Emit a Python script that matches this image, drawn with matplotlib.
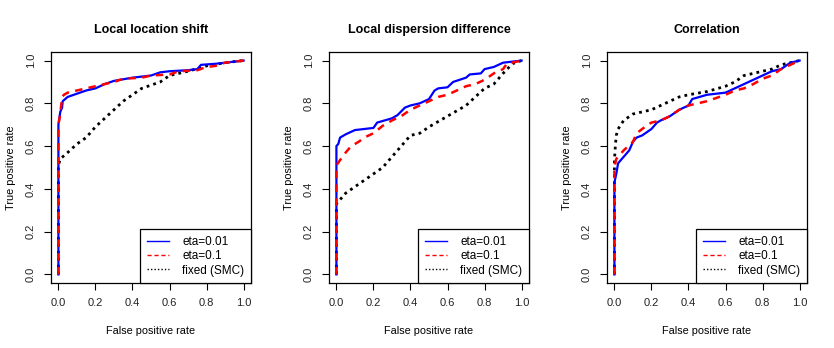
import numpy as np
import matplotlib.pyplot as plt
from matplotlib.lines import Line2D

plt.rcParams['font.family'] = ['Liberation Sans', 'DejaVu Sans']

titles = ["Local location shift", "Local dispersion difference", "Correlation"]
labels = ["eta=0.01", "eta=0.1", "fixed (SMC)"]

# panel 1: local location shift
p1_blue_x = [0, 0, 0.01, 0.02, 0.023, 0.05, 0.1, 0.15, 0.2, 0.25, 0.3, 0.4, 0.5, 0.55, 0.6, 0.7, 0.75, 0.77, 0.85, 0.9, 1.0]
p1_blue_y = [0, 0.70, 0.76, 0.78, 0.81, 0.83, 0.845, 0.86, 0.87, 0.89, 0.905, 0.92, 0.93, 0.945, 0.95, 0.955, 0.96, 0.98, 0.985, 0.99, 1.0]
p1_red_x = [0, 0, 0.01, 0.02, 0.03, 0.05, 0.1, 0.15, 0.2, 0.3, 0.35, 0.45, 0.5, 0.6, 0.65, 0.75, 0.8, 0.85, 0.9, 1.0]
p1_red_y = [0, 0.70, 0.75, 0.83, 0.84, 0.85, 0.86, 0.87, 0.88, 0.90, 0.915, 0.92, 0.93, 0.935, 0.95, 0.955, 0.97, 0.975, 0.99, 1.0]
p1_blk_x = [0, 0, 0.01, 0.05, 0.1, 0.15, 0.2, 0.25, 0.3, 0.35, 0.4, 0.45, 0.5, 0.55, 0.6, 0.7, 0.8, 0.9, 1.0]
p1_blk_y = [0, 0.51, 0.54, 0.57, 0.61, 0.64, 0.69, 0.73, 0.77, 0.81, 0.84, 0.87, 0.885, 0.90, 0.93, 0.95, 0.975, 0.99, 1.0]

# panel 2: local dispersion difference
p2_blue_x = [0, 0, 0.01, 0.02, 0.05, 0.1, 0.2, 0.22, 0.3, 0.33, 0.37, 0.4, 0.45, 0.5, 0.53, 0.55, 0.6, 0.63, 0.7, 0.72, 0.78, 0.8, 0.85, 0.9, 0.95, 1.0]
p2_blue_y = [0, 0.60, 0.61, 0.64, 0.655, 0.675, 0.685, 0.71, 0.73, 0.745, 0.78, 0.79, 0.80, 0.82, 0.86, 0.87, 0.875, 0.90, 0.92, 0.935, 0.94, 0.96, 0.97, 0.99, 0.995, 1.0]
p2_red_x = [0, 0, 0.02, 0.05, 0.08, 0.12, 0.15, 0.2, 0.25, 0.3, 0.35, 0.4, 0.45, 0.5, 0.55, 0.6, 0.65, 0.7, 0.75, 0.8, 0.85, 0.9, 0.92, 1.0]
p2_red_y = [0, 0.51, 0.535, 0.57, 0.60, 0.62, 0.64, 0.66, 0.695, 0.72, 0.74, 0.77, 0.79, 0.81, 0.83, 0.84, 0.86, 0.88, 0.89, 0.91, 0.94, 0.96, 0.985, 1.0]
p2_blk_x = [0, 0, 0.02, 0.05, 0.1, 0.15, 0.2, 0.25, 0.3, 0.35, 0.4, 0.45, 0.5, 0.6, 0.7, 0.75, 0.8, 0.85, 0.9, 0.95, 1.0]
p2_blk_y = [0, 0.33, 0.35, 0.38, 0.41, 0.44, 0.47, 0.50, 0.55, 0.60, 0.65, 0.66, 0.69, 0.74, 0.79, 0.83, 0.87, 0.89, 0.94, 0.985, 1.0]

# panel 3: correlation
p3_blue_x = [0, 0, 0.01, 0.02, 0.05, 0.08, 0.1, 0.12, 0.15, 0.2, 0.23, 0.25, 0.3, 0.35, 0.4, 0.42, 0.5, 0.6, 0.65, 0.7, 0.75, 0.8, 0.85, 0.9, 0.95, 1.0]
p3_blue_y = [0, 0.43, 0.47, 0.52, 0.55, 0.58, 0.62, 0.64, 0.65, 0.68, 0.71, 0.72, 0.74, 0.77, 0.79, 0.82, 0.84, 0.85, 0.87, 0.89, 0.91, 0.93, 0.95, 0.96, 0.99, 1.0]
p3_red_x = [0, 0, 0.01, 0.05, 0.1, 0.12, 0.18, 0.2, 0.25, 0.3, 0.35, 0.4, 0.45, 0.5, 0.6, 0.65, 0.7, 0.75, 0.8, 0.85, 0.9, 0.95, 1.0]
p3_red_y = [0, 0.50, 0.54, 0.58, 0.62, 0.66, 0.70, 0.71, 0.72, 0.74, 0.77, 0.79, 0.80, 0.81, 0.84, 0.86, 0.87, 0.89, 0.915, 0.93, 0.96, 0.98, 1.0]
p3_blk_x = [0, 0, 0.005, 0.01, 0.02, 0.05, 0.1, 0.2, 0.3, 0.35, 0.4, 0.5, 0.6, 0.65, 0.7, 0.8, 0.85, 0.9, 0.95, 1.0]
p3_blk_y = [0, 0.53, 0.60, 0.65, 0.68, 0.72, 0.75, 0.77, 0.81, 0.83, 0.84, 0.855, 0.88, 0.90, 0.93, 0.95, 0.96, 0.98, 0.99, 1.0]

panels = [
    (p1_blue_x, p1_blue_y, p1_red_x, p1_red_y, p1_blk_x, p1_blk_y),
    (p2_blue_x, p2_blue_y, p2_red_x, p2_red_y, p2_blk_x, p2_blk_y),
    (p3_blue_x, p3_blue_y, p3_red_x, p3_red_y, p3_blk_x, p3_blk_y),
]

W, H = 834, 348
fig = plt.figure(figsize=(W / 100, H / 100), dpi=100)
lefts = [51, 329, 607]
ticks = [0, 0.2, 0.4, 0.6, 0.8, 1.0]

for i, (bx, by, rx, ry, kx, ky) in enumerate(panels):
    ax = fig.add_axes([lefts[i] / W, (H - 283) / H, 200 / W, 231 / H])
    ax.plot(kx, ky, color="black", lw=2, linestyle=(0, (1, 1.5)))
    ax.plot(bx, by, color="blue", lw=1.6)
    ax.plot(rx, ry, color="red", lw=1.8, linestyle=(0, (3, 2.5)))
    ax.set_xlim(-0.04, 1.04)
    ax.set_ylim(-0.04, 1.04)
    ax.set_xticks(ticks)
    ax.set_yticks(ticks)
    ax.set_xticklabels(["%.1f" % t for t in ticks])
    ax.set_yticklabels(["%.1f" % t for t in ticks], rotation=90, va="center")
    ax.tick_params(labelsize=8, length=5, width=0.8, pad=6, labelcolor="#222222")
    for s in ax.spines.values():
        s.set_linewidth(0.9)
    ax.set_title(titles[i], fontsize=9, fontweight="bold", pad=14)
    ax.set_xlabel("False positive rate", fontsize=7.8, labelpad=13)
    ax.set_ylabel("True positive rate", fontsize=7.8, labelpad=7)
    handles = [
        Line2D([], [], color="blue", lw=1),
        Line2D([], [], color="red", lw=1, linestyle=(0, (3, 2))),
        Line2D([], [], color="black", lw=1, linestyle=(0, (1, 1.5))),
    ]
    leg = ax.legend(handles, labels, loc="lower right", fontsize=8.5,
                    borderaxespad=0, fancybox=False, framealpha=1,
                    edgecolor="black", handlelength=1.9, labelspacing=0.2,
                    borderpad=0.55, handletextpad=1.1)
    leg.get_frame().set_linewidth(0.9)

plt.savefig("out.png", dpi=100)
